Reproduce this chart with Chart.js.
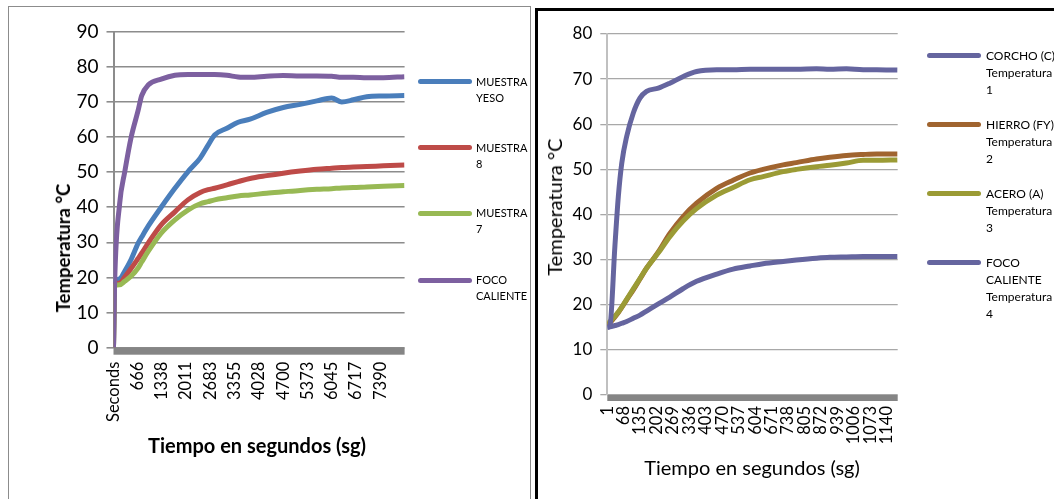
<!DOCTYPE html>
<html>
<head>
<meta charset="utf-8">
<script src="https://cdn.jsdelivr.net/npm/chart.js@4.4.1/dist/chart.umd.min.js"></script>
<style>
  body { margin: 0; background: #fff; }
  #wrap { position: relative; width: 1054px; height: 499px; overflow: hidden; font-family: Lato, "Open Sans", sans-serif; color: #000; }
  canvas { position: absolute; top: 0; }
  .box { position: absolute; box-sizing: border-box; }
  .title { position: absolute; white-space: nowrap; transform: translate(-50%, -50%); }
  .rot { transform: translate(-50%, -50%) rotate(-90deg); }
  .key { position: absolute; border-radius: 3px; }
  .keytext { position: absolute; white-space: nowrap; }
</style>
</head>
<body>
<div id="wrap">
  <div class="box" style="left:8px;top:6px;width:523px;height:600px;border:1px solid #8c8c8c;"></div>
  <div class="box" style="left:535px;top:8px;width:600px;height:600px;border-left:3px solid #000;border-top:3px solid #000;"></div>
  <canvas id="left" width="530" height="499" style="left:0"></canvas>
  <canvas id="right" width="524" height="499" style="left:530px"></canvas>

  <div class="title rot" style="left:63px;top:248px;font-weight:bold;font-size:18.5px;">Temperatura °C</div>
  <div class="title" style="left:257px;top:445px;font-weight:bold;font-size:20px;">Tiempo en segundos (sg)</div>
  <div class="title rot" style="left:554px;top:207px;font-size:20px;">Temperatura °C</div>
  <div class="title" style="left:752px;top:467px;font-size:20px;">Tiempo en segundos (sg)</div>
  <div id="legendLeft"></div>
  <div id="legendRight"></div>
</div>
<script>
// ---- left chart: row index (seconds) and temperatures ----
const leftTime  = [0, 30, 170, 310, 490, 680, 780, 960, 1320, 1700, 2060, 2400, 2620, 2800, 3140, 3450, 3780, 4240, 4700, 5170, 5630, 6040, 6320, 6640, 7010, 7470, 8055];
const yeso      = [0, 18, 19.6, 21.8, 25.2, 29.7, 31.5, 34.6, 40.0, 45.4, 50.1, 54.0, 57.7, 60.6, 62.5, 64.2, 65.1, 67.0, 68.4, 69.3, 70.3, 71.1, 70.0, 70.6, 71.5, 71.7, 71.8];
const muestra8  = [0, 18, 18.4, 20.1, 22.6, 25.4, 26.9, 29.8, 35.0, 38.7, 42.1, 44.2, 45.0, 45.4, 46.4, 47.3, 48.2, 49.0, 49.7, 50.3, 50.8, 51.1, 51.3, 51.5, 51.6, 51.8, 52.0];
const muestra7  = [0, 17.6, 17.9, 18.9, 20.4, 22.7, 24.4, 27.4, 32.6, 36.4, 39.2, 41.0, 41.6, 42.1, 42.7, 43.2, 43.5, 44.0, 44.4, 44.8, 45.1, 45.3, 45.5, 45.6, 45.8, 46.0, 46.2];
const focoLeft  = [0, 18, 41, 50, 60, 67.5, 71.8, 74.8, 76.5, 77.6, 77.8, 77.8, 77.8, 77.8, 77.6, 77.1, 77.0, 77.3, 77.5, 77.4, 77.4, 77.3, 77.0, 77.0, 76.9, 76.9, 77.2];
const leftTickValues = [0, 666, 1338, 2011, 2683, 3355, 4028, 4700, 5373, 6045, 6717, 7390];
const leftTickLabels = ["Seconds", "666", "1338", "2011", "2683", "3355", "4028", "4700", "5373", "6045", "6717", "7390"];
const leftNames  = ["MUESTRA\nYESO", "MUESTRA\n8", "MUESTRA\n7", "FOCO\nCALIENTE"];
const leftColors = ["#4a7ebb", "#be4b48", "#98b954", "#7d60a0"];

// ---- right chart ----
const rightTime  = [1, 12, 32, 46, 60, 80, 107, 134, 161, 209, 256, 311, 365, 447, 514, 583, 636, 718, 772, 854, 908, 976, 1044, 1100, 1184];
const corcho     = [15, 15.1, 15.4, 15.6, 15.9, 16.3, 17.0, 17.7, 18.6, 20.2, 21.7, 23.6, 25.2, 26.8, 27.9, 28.6, 29.1, 29.6, 29.9, 30.3, 30.5, 30.6, 30.7, 30.7, 30.7];
const hierro     = [15.5, 16.0, 17.3, 18.3, 19.4, 21.1, 23.3, 25.7, 28.1, 31.7, 35.8, 39.6, 42.5, 45.8, 47.6, 49.2, 50.0, 51.0, 51.5, 52.3, 52.7, 53.1, 53.3, 53.4, 53.4];
const acero      = [15.8, 16.3, 17.5, 18.4, 19.5, 21.2, 23.5, 25.8, 28.1, 31.5, 35.1, 38.6, 41.3, 44.3, 46.0, 47.7, 48.4, 49.5, 50.0, 50.6, 50.9, 51.4, 52.0, 52.0, 52.1];
const focoRight  = [15, 15.5, 33, 44, 51.4, 57.3, 62.5, 65.8, 67.3, 68.0, 69.1, 70.6, 71.7, 72.1, 72.1, 72.2, 72.2, 72.2, 72.2, 72.3, 72.2, 72.3, 72.1, 72.1, 72.0];
const rightTickLabels = ["1", "68", "135", "202", "269", "336", "403", "470", "537", "604", "671", "738", "805", "872", "939", "1006", "1073", "1140"];
const rightNames  = ["CORCHO (C)\nTemperatura\n1", "HIERRO (FY)\nTemperatura\n2", "ACERO (A)\nTemperatura\n3", "FOCO\nCALIENTE\nTemperatura\n4"];
const rightColors = ["#65659f", "#a0642f", "#9b9b35", "#65659f"];

Chart.defaults.font.family = "Lato, 'Open Sans', sans-serif";
Chart.defaults.color = "#000";

// thick grey category axis, as in the spreadsheet original
const axisBand = {
  id: "axisBand",
  beforeDatasetsDraw(chart, args, opts) {
    const a = chart.chartArea;
    const ctx = chart.ctx;
    ctx.save();
    ctx.fillStyle = opts.color;
    ctx.fillRect(a.left, a.bottom, a.right - a.left, opts.size);
    ctx.restore();
  }
};

function series(xs, ys, color, i, n) {
  return {
    data: xs.map((x, k) => ({ x, y: ys[k] })),
    borderColor: color,
    borderWidth: 5,
    pointRadius: 0,
    fill: false,
    cubicInterpolationMode: "monotone",
    order: n - i
  };
}

function makeChart(id, cfg) {
  return new Chart(document.getElementById(id), {
    type: "line",
    data: { datasets: cfg.sets.map((s, i) => series(cfg.xs, s, cfg.colors[i], i, cfg.sets.length)) },
    plugins: [axisBand],
    options: {
      responsive: false,
      animation: false,
      events: [],
      layout: { padding: cfg.padding },
      plugins: {
        legend: { display: false },
        tooltip: { enabled: false },
        axisBand: { color: "#858585", size: cfg.band }
      },
      scales: {
        x: {
          type: "linear",
          min: cfg.xMin,
          max: cfg.xMax,
          afterBuildTicks: s => { s.ticks = cfg.tickValues.map(v => ({ value: v })); },
          afterFit: s => { s.height = cfg.xHeight; },
          grid: { display: false, drawTicks: false },
          border: { display: false },
          ticks: {
            autoSkip: false,
            minRotation: 90,
            maxRotation: 90,
            padding: cfg.xPad,
            font: { size: cfg.xFont },
            callback: (v, i) => cfg.tickLabels[i]
          }
        },
        y: {
          min: 0,
          max: cfg.yMax,
          afterFit: s => { s.width = cfg.yWidth; },
          grid: { color: cfg.gridColor, lineWidth: cfg.gridWidth, tickLength: 7 },
          border: { color: cfg.axisColor, width: 2 },
          ticks: { stepSize: 10, padding: 8, font: { size: cfg.yFont } }
        }
      }
    }
  });
}

makeChart("left", {
  xs: leftTime,
  sets: [yeso, muestra8, muestra7, focoLeft],
  colors: leftColors,
  padding: { left: 0, right: 125.4, top: 31.7, bottom: 0 },
  xMin: 0, xMax: 8060,
  tickValues: leftTickValues,
  tickLabels: leftTickLabels,
  xHeight: 151.3, xPad: 14, band: 7, xFont: 16.5,
  yMax: 90, yWidth: 113.5, yFont: 19,
  gridColor: "#8c8c8c", gridWidth: 1.6, axisColor: "#8c8c8c"
});

makeChart("right", {
  xs: rightTime,
  sets: [corcho, hierro, acero, focoRight],
  colors: rightColors,
  padding: { left: 0, right: 156.3, top: 34, bottom: 0 },
  xMin: 1, xMax: 1185,
  tickValues: rightTickLabels.map(Number),
  tickLabels: rightTickLabels,
  xHeight: 104, xPad: 11, band: 6, xFont: 16.5,
  yMax: 80, yWidth: 77.3, yFont: 17,
  gridColor: "#a8a8a8", gridWidth: 1.3, axisColor: "#c0c0c0"
});

/* ---------------- legends (html, right of each plot) ---------------- */
function legend(el, names, colors, cfg) {
  names.forEach((name, i) => {
    const y = cfg.ys[i];
    const line = document.createElement("div");
    line.className = "key";
    line.style.cssText = `left:${cfg.lineX}px;top:${y - cfg.thick / 2}px;width:${cfg.lineW}px;height:${cfg.thick}px;background:${colors[i]}`;
    const txt = document.createElement("div");
    txt.className = "keytext";
    txt.style.cssText = `left:${cfg.textX}px;top:${y - cfg.lh / 2}px;font-size:${cfg.size}px;line-height:${cfg.lh}px`;
    txt.innerHTML = name.split("\n").join("<br>");
    el.appendChild(line);
    el.appendChild(txt);
  });
}

legend(document.getElementById("legendLeft"), leftNames, leftColors,
  { ys: [81.7, 147.7, 213.3, 280], lineX: 418, lineW: 54, thick: 5, textX: 476, size: 11, lh: 16 });
legend(document.getElementById("legendRight"), rightNames, rightColors,
  { ys: [55.3, 124.3, 193.3, 262.3], lineX: 927, lineW: 54, thick: 4.5, textX: 986, size: 12, lh: 17 });
</script>
</body>
</html>
